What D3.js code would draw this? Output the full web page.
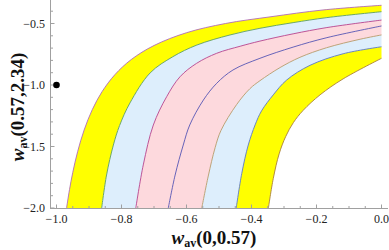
<!DOCTYPE html>
<html>
<head>
<meta charset="utf-8">
<script src="https://cdn.jsdelivr.net/npm/d3@7/dist/d3.min.js"></script>
<style>
html,body{margin:0;padding:0;background:#fff;}
svg{display:block;}
</style>
</head>
<body>
<svg id="chart" width="389" height="250"></svg>
<script>
// ---- data ----
const curve1 = [[-0.969,-2.0],[-0.96,-1.851],[-0.95,-1.712],[-0.935,-1.542],[-0.915,-1.366],[-0.89,-1.201],[-0.86,-1.055],[-0.82,-0.915],[-0.77,-0.793],[-0.70,-0.679],[-0.60,-0.575],[-0.48,-0.50],[-0.34,-0.445],[-0.18,-0.39],[0.0,-0.352]];
const curve2 = [[-0.861,-2.0],[-0.846,-1.732],[-0.825,-1.488],[-0.806,-1.33],[-0.774,-1.146],[-0.712,-0.902],[-0.642,-0.77],[-0.568,-0.675],[-0.466,-0.593],[-0.374,-0.539],[-0.272,-0.493],[-0.168,-0.452],[0.0,-0.404]];
const curve3 = [[-0.756,-2.0],[-0.733,-1.65],[-0.702,-1.325],[-0.661,-1.095],[-0.620,-0.933],[-0.569,-0.824],[-0.507,-0.742],[-0.435,-0.685],[-0.374,-0.643],[-0.272,-0.584],[-0.168,-0.533],[0.0,-0.472]];
const curve4 = [[-0.656,-2.0],[-0.635,-1.732],[-0.61,-1.488],[-0.59,-1.325],[-0.548,-1.122],[-0.507,-0.986],[-0.457,-0.878],[-0.374,-0.783],[-0.272,-0.692],[-0.168,-0.615],[0.0,-0.52]];
const curve5 = [[-0.553,-2.0],[-0.533,-1.74],[-0.512,-1.51],[-0.494,-1.37],[-0.446,-1.16],[-0.405,-1.03],[-0.374,-0.965],[-0.312,-0.858],[-0.251,-0.775],[-0.169,-0.697],[-0.066,-0.628],[0.0,-0.593]];
const curve6 = [[-0.447,-2.0],[-0.43,-1.72],[-0.41,-1.488],[-0.389,-1.325],[-0.369,-1.21],[-0.333,-1.08],[-0.292,-0.96],[-0.22,-0.84],[-0.118,-0.746],[0.0,-0.689]];
const curve7 = [[-0.348,-2.0],[-0.333,-1.76],[-0.315,-1.56],[-0.295,-1.42],[-0.271,-1.305],[-0.241,-1.206],[-0.189,-1.08],[-0.118,-0.95],[0.0,-0.783]];
const point = [[-1.0,-1.0]];

const xMajorTicks = [-1.0,-0.8,-0.6,-0.4,-0.2,0.0];
const xTickLabels = ["\u22121.0","\u22120.8","\u22120.6","\u22120.4","\u22120.2","0.0"];
const yMajorTicks = [-2.0,-1.5,-1.0,-0.5];
const yTickLabels = ["\u22122.0","\u22121.5","\u22121.0","\u22120.5"];

// ---- layout ----
const svg = d3.select("#chart");
const x = d3.scaleLinear().domain([-1.02, 0.02]).range([50, 388]);
const y = d3.scaleLinear().domain([-2.0, -0.3]).range([208, -1.1]);

const curves = [curve1, curve2, curve3, curve4, curve5, curve6, curve7];
const lineColors = ["#b06cb8", "#5f9e5a", "#b4448e", "#5656b4", "#b89a6a", "#5a78c8", "#aa8038"];
const bands = [
  {a:0, b:1, fill:"#ffff00"},
  {a:1, b:2, fill:"#ddeefc"},
  {a:2, b:4, fill:"#fdd9dd"},
  {a:4, b:5, fill:"#ddeefc"},
  {a:5, b:6, fill:"#ffff00"}
];

svg.append("clipPath").attr("id","clip")
  .append("rect").attr("x",50).attr("y",-2).attr("width",338).attr("height",210);

const line = d3.line().x(d=>x(d[0])).y(d=>y(d[1])).curve(d3.curveCatmullRom.alpha(0.5));

const plot = svg.append("g").attr("clip-path","url(#clip)");
bands.forEach(bd => {
  const A = curves[bd.a], B = curves[bd.b].slice().reverse();
  const p = line(A) + line(B).replace(/^M/, "L") + "Z";
  plot.append("path").attr("d", p).attr("fill", bd.fill).attr("stroke","none");
});
curves.forEach((c,i) => {
  plot.append("path").attr("d", line(c)).attr("fill","none")
    .attr("stroke", lineColors[i]).attr("stroke-width", 0.9);
});

// ---- axes ----
const axisColor = "#a0a0a0";
const ax = svg.append("g");
ax.append("line").attr("x1",50).attr("x2",388).attr("y1",208.5).attr("y2",208.5).attr("stroke",axisColor);
ax.append("line").attr("x1",50.5).attr("x2",50.5).attr("y1",0).attr("y2",208.5).attr("stroke",axisColor);

const xMinor = d3.range(-1.0, 0.0001, 0.05).filter(v => !xMajorTicks.some(t => Math.abs(t-v) < 1e-6));
xMajorTicks.forEach(v => ax.append("line").attr("x1",x(v)).attr("x2",x(v)).attr("y1",208.5).attr("y2",204.5).attr("stroke",axisColor));
xMinor.forEach(v => ax.append("line").attr("x1",x(v)).attr("x2",x(v)).attr("y1",208.5).attr("y2",206).attr("stroke",axisColor));
const yMinor = d3.range(-2.0, -0.29, 0.1).filter(v => !yMajorTicks.some(t => Math.abs(t-v) < 1e-6));
yMajorTicks.forEach(v => ax.append("line").attr("x1",50.5).attr("x2",54.5).attr("y1",y(v)).attr("y2",y(v)).attr("stroke",axisColor));
yMinor.forEach(v => ax.append("line").attr("x1",50.5).attr("x2",53).attr("y1",y(v)).attr("y2",y(v)).attr("stroke",axisColor));

const labFont = "'Liberation Serif','Times New Roman',serif";
xMajorTicks.forEach((v,i) => {
  ax.append("text").attr("x", x(v)).attr("y", 223)
    .attr("text-anchor","middle").attr("font-family",labFont).attr("font-size",12)
    .attr("fill","#222").text(xTickLabels[i]);
});
yMajorTicks.forEach((v,i) => {
  ax.append("text").attr("x", 45).attr("y", y(v)).attr("dy","0.35em")
    .attr("text-anchor","end").attr("font-family",labFont).attr("font-size",12)
    .attr("fill","#222").text(yTickLabels[i]);
});

// axis titles
const xt = svg.append("text").attr("x", 214).attr("y", 244).attr("text-anchor","middle")
  .attr("font-family",labFont).attr("font-size",19).attr("font-weight","bold").attr("fill","#111");
xt.append("tspan").attr("font-style","italic").text("w");
xt.append("tspan").attr("font-size",12).attr("dy",3).text("av");
xt.append("tspan").attr("dy",-3).text("(0,0.57)");

const yt = svg.append("text").attr("transform","translate(24,107) rotate(-90)").attr("text-anchor","middle")
  .attr("font-family",labFont).attr("font-size",19).attr("font-weight","bold").attr("fill","#111");
yt.append("tspan").attr("font-style","italic").text("w");
yt.append("tspan").attr("font-size",12).attr("dy",3).text("av");
yt.append("tspan").attr("dy",-3).text("(0.57,2.34)");

// point
svg.selectAll("circle.pt").data(point).enter().append("circle")
  .attr("cx", d=>x(d[0])).attr("cy", d=>y(d[1])).attr("r", 3.3).attr("fill","#000");
</script>
</body>
</html>
